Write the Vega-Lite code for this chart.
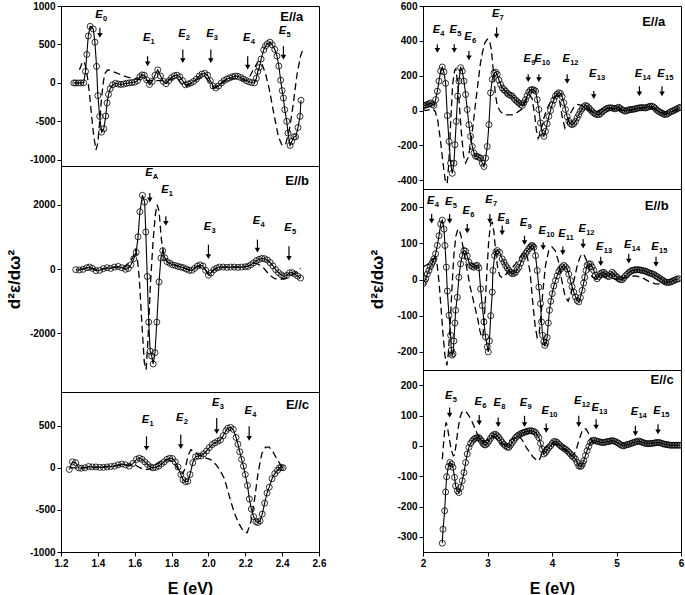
{
"$schema":"https://vega.github.io/schema/vega-lite/v6.json",
"padding":{"left":4,"top":0,"right":0,"bottom":0},
"config":{
"font":"Liberation Sans",
"view":{"stroke":"black","strokeWidth":1},
"axis":{"labelFont":"Liberation Sans","labelFontWeight":"bold","labelFontSize":10,"labelColor":"black","domainColor":"black","tickColor":"black","tickSize":4,"labelPadding":2,"grid":false,"labelFlush":false,"labelOverlap":false,"labelBound":false,"tickCount":20,"titleFont":"Liberation Sans","titleFontWeight":"bold","titleColor":"black","titleFontSize":16}
},
"datasets":{
"Lae":[{"x":1.27,"y":0},{"x":1.28,"y":0},{"x":1.294,"y":0},{"x":1.308,"y":0},{"x":1.323,"y":2},{"x":1.333,"y":150},{"x":1.34,"y":370},{"x":1.348,"y":610},{"x":1.358,"y":735},{"x":1.375,"y":700},{"x":1.384,"y":530},{"x":1.393,"y":215},{"x":1.4,"y":-165},{"x":1.41,"y":-435},{"x":1.42,"y":-640},{"x":1.432,"y":-595},{"x":1.443,"y":-430},{"x":1.45,"y":-260},{"x":1.458,"y":-150},{"x":1.467,"y":-75},{"x":1.48,"y":-25},{"x":1.495,"y":-5},{"x":1.51,"y":-15},{"x":1.525,"y":-20},{"x":1.54,"y":-15},{"x":1.555,"y":-5},{"x":1.57,"y":0},{"x":1.585,"y":5},{"x":1.6,"y":10},{"x":1.615,"y":30},{"x":1.628,"y":80},{"x":1.64,"y":105},{"x":1.652,"y":100},{"x":1.665,"y":40},{"x":1.68,"y":-20},{"x":1.695,"y":20},{"x":1.71,"y":100},{"x":1.725,"y":170},{"x":1.74,"y":90},{"x":1.755,"y":20},{"x":1.77,"y":-10},{"x":1.785,"y":30},{"x":1.8,"y":70},{"x":1.815,"y":95},{"x":1.83,"y":100},{"x":1.845,"y":80},{"x":1.86,"y":30},{"x":1.875,"y":-25},{"x":1.89,"y":-15},{"x":1.905,"y":0},{"x":1.92,"y":20},{"x":1.935,"y":50},{"x":1.95,"y":90},{"x":1.965,"y":115},{"x":1.98,"y":125},{"x":1.995,"y":100},{"x":2.01,"y":30},{"x":2.025,"y":-40},{"x":2.04,"y":-65},{"x":2.055,"y":-40},{"x":2.07,"y":0},{"x":2.085,"y":30},{"x":2.1,"y":50},{"x":2.115,"y":65},{"x":2.13,"y":80},{"x":2.145,"y":90},{"x":2.16,"y":85},{"x":2.175,"y":70},{"x":2.19,"y":50},{"x":2.205,"y":30},{"x":2.22,"y":15},{"x":2.235,"y":5},{"x":2.25,"y":0},{"x":2.26,"y":60},{"x":2.268,"y":150},{"x":2.276,"y":200},{"x":2.286,"y":310},{"x":2.3,"y":430},{"x":2.31,"y":480},{"x":2.32,"y":510},{"x":2.334,"y":530},{"x":2.346,"y":495},{"x":2.36,"y":435},{"x":2.372,"y":350},{"x":2.382,"y":220},{"x":2.392,"y":35},{"x":2.4,"y":-100},{"x":2.407,"y":-196},{"x":2.414,"y":-348},{"x":2.425,"y":-500},{"x":2.432,"y":-652},{"x":2.443,"y":-813},{"x":2.452,"y":-761},{"x":2.464,"y":-700},{"x":2.473,"y":-700},{"x":2.486,"y":-580},{"x":2.497,"y":-435},{"x":2.502,"y":-226}],
"Lad":[{"x":1.3,"y":170},{"x":1.315,"y":260},{"x":1.325,"y":280},{"x":1.335,"y":200},{"x":1.345,"y":50},{"x":1.355,"y":-150},{"x":1.365,"y":-400},{"x":1.378,"y":-700},{"x":1.39,"y":-870},{"x":1.4,"y":-780},{"x":1.41,"y":-500},{"x":1.42,"y":-200},{"x":1.43,"y":20},{"x":1.44,"y":130},{"x":1.455,"y":170},{"x":1.47,"y":160},{"x":1.5,"y":130},{"x":1.53,"y":100},{"x":1.56,"y":75},{"x":1.6,"y":55},{"x":1.64,"y":40},{"x":1.68,"y":30},{"x":1.72,"y":30},{"x":1.76,"y":30},{"x":1.8,"y":50},{"x":1.83,"y":60},{"x":1.86,"y":-30},{"x":1.88,"y":-40},{"x":1.91,"y":0},{"x":1.95,"y":60},{"x":1.98,"y":80},{"x":2.0,"y":30},{"x":2.03,"y":-70},{"x":2.06,"y":-20},{"x":2.1,"y":40},{"x":2.14,"y":60},{"x":2.18,"y":40},{"x":2.21,"y":30},{"x":2.23,"y":110},{"x":2.25,"y":200},{"x":2.27,"y":280},{"x":2.29,"y":250},{"x":2.31,"y":120},{"x":2.33,"y":-80},{"x":2.355,"y":-400},{"x":2.38,"y":-700},{"x":2.4,"y":-815},{"x":2.42,"y":-790},{"x":2.44,"y":-600},{"x":2.46,"y":-280},{"x":2.48,"y":100},{"x":2.5,"y":350},{"x":2.51,"y":420}],
"Lbe":[{"x":1.28,"y":-20},{"x":1.3,"y":-30},{"x":1.32,"y":-10},{"x":1.34,"y":40},{"x":1.355,"y":60},{"x":1.37,"y":20},{"x":1.39,"y":-50},{"x":1.41,"y":-40},{"x":1.43,"y":10},{"x":1.45,"y":40},{"x":1.47,"y":20},{"x":1.49,"y":60},{"x":1.51,"y":80},{"x":1.53,"y":40},{"x":1.55,"y":-10},{"x":1.565,"y":20},{"x":1.58,"y":130},{"x":1.595,"y":320},{"x":1.608,"y":520},{"x":1.618,"y":1000},{"x":1.628,"y":1780},{"x":1.642,"y":2290},{"x":1.654,"y":2080},{"x":1.66,"y":1150},{"x":1.668,"y":-230},{"x":1.676,"y":-1650},{"x":1.684,"y":-2550},{"x":1.692,"y":-2700},{"x":1.7,"y":-2950},{"x":1.71,"y":-2600},{"x":1.72,"y":-1650},{"x":1.732,"y":-400},{"x":1.742,"y":340},{"x":1.752,"y":570},{"x":1.763,"y":350},{"x":1.775,"y":230},{"x":1.79,"y":180},{"x":1.805,"y":130},{"x":1.82,"y":110},{"x":1.835,"y":80},{"x":1.85,"y":60},{"x":1.865,"y":40},{"x":1.88,"y":0},{"x":1.895,"y":-40},{"x":1.91,"y":-40},{"x":1.925,"y":20},{"x":1.94,"y":90},{"x":1.955,"y":130},{"x":1.97,"y":90},{"x":1.985,"y":-40},{"x":2.0,"y":-190},{"x":2.015,"y":-120},{"x":2.03,"y":-20},{"x":2.045,"y":30},{"x":2.06,"y":60},{"x":2.08,"y":60},{"x":2.1,"y":50},{"x":2.12,"y":60},{"x":2.14,"y":60},{"x":2.16,"y":50},{"x":2.18,"y":60},{"x":2.2,"y":70},{"x":2.215,"y":80},{"x":2.23,"y":130},{"x":2.245,"y":190},{"x":2.26,"y":260},{"x":2.275,"y":300},{"x":2.29,"y":330},{"x":2.305,"y":320},{"x":2.32,"y":280},{"x":2.335,"y":200},{"x":2.35,"y":100},{"x":2.365,"y":-20},{"x":2.38,"y":-110},{"x":2.395,"y":-180},{"x":2.41,"y":-230},{"x":2.425,"y":-200},{"x":2.44,"y":-120},{"x":2.455,"y":-110},{"x":2.47,"y":-160},{"x":2.485,"y":-220},{"x":2.5,"y":-280}],
"Lbd":[{"x":1.3,"y":-10},{"x":1.35,"y":40},{"x":1.4,"y":-30},{"x":1.45,"y":30},{"x":1.5,"y":60},{"x":1.54,"y":60},{"x":1.57,"y":200},{"x":1.59,"y":350},{"x":1.603,"y":600},{"x":1.612,"y":450},{"x":1.625,"y":-300},{"x":1.64,"y":-1800},{"x":1.652,"y":-2900},{"x":1.662,"y":-3125},{"x":1.672,"y":-2200},{"x":1.685,"y":-500},{"x":1.7,"y":900},{"x":1.712,"y":1700},{"x":1.722,"y":2000},{"x":1.732,"y":1800},{"x":1.745,"y":900},{"x":1.76,"y":400},{"x":1.78,"y":200},{"x":1.82,"y":120},{"x":1.86,"y":50},{"x":1.9,"y":-30},{"x":1.94,"y":80},{"x":1.97,"y":80},{"x":2.0,"y":-150},{"x":2.03,"y":-10},{"x":2.08,"y":60},{"x":2.14,"y":60},{"x":2.19,"y":70},{"x":2.22,"y":100},{"x":2.25,"y":180},{"x":2.27,"y":150},{"x":2.3,"y":30},{"x":2.33,"y":-180},{"x":2.36,"y":-300},{"x":2.39,"y":-320},{"x":2.42,"y":-280},{"x":2.45,"y":-200},{"x":2.48,"y":-80},{"x":2.5,"y":20}],
"Lce":[{"x":1.245,"y":-20},{"x":1.262,"y":70},{"x":1.28,"y":60},{"x":1.295,"y":0},{"x":1.31,"y":-5},{"x":1.33,"y":0},{"x":1.35,"y":15},{"x":1.37,"y":10},{"x":1.39,"y":10},{"x":1.41,"y":5},{"x":1.43,"y":5},{"x":1.45,"y":10},{"x":1.47,"y":15},{"x":1.49,"y":20},{"x":1.51,"y":35},{"x":1.53,"y":45},{"x":1.55,"y":35},{"x":1.57,"y":20},{"x":1.59,"y":50},{"x":1.61,"y":100},{"x":1.625,"y":115},{"x":1.64,"y":100},{"x":1.655,"y":70},{"x":1.67,"y":40},{"x":1.685,"y":10},{"x":1.7,"y":0},{"x":1.715,"y":5},{"x":1.73,"y":20},{"x":1.745,"y":45},{"x":1.76,"y":70},{"x":1.775,"y":100},{"x":1.79,"y":115},{"x":1.805,"y":110},{"x":1.82,"y":70},{"x":1.835,"y":10},{"x":1.85,"y":-80},{"x":1.862,"y":-140},{"x":1.875,"y":-165},{"x":1.888,"y":-160},{"x":1.9,"y":-80},{"x":1.915,"y":60},{"x":1.93,"y":130},{"x":1.945,"y":140},{"x":1.96,"y":140},{"x":1.975,"y":165},{"x":1.99,"y":200},{"x":2.005,"y":240},{"x":2.02,"y":275},{"x":2.035,"y":295},{"x":2.05,"y":315},{"x":2.065,"y":330},{"x":2.08,"y":380},{"x":2.095,"y":440},{"x":2.105,"y":470},{"x":2.12,"y":480},{"x":2.135,"y":455},{"x":2.15,"y":360},{"x":2.16,"y":280},{"x":2.17,"y":190},{"x":2.18,"y":100},{"x":2.19,"y":20},{"x":2.2,"y":-80},{"x":2.212,"y":-210},{"x":2.222,"y":-370},{"x":2.233,"y":-490},{"x":2.245,"y":-580},{"x":2.258,"y":-640},{"x":2.268,"y":-650},{"x":2.28,"y":-630},{"x":2.292,"y":-550},{"x":2.305,"y":-420},{"x":2.318,"y":-300},{"x":2.33,"y":-230},{"x":2.345,"y":-130},{"x":2.36,"y":-70},{"x":2.375,"y":-30},{"x":2.385,"y":0},{"x":2.395,"y":5},{"x":2.405,"y":0}],
"Lcd":[{"x":1.25,"y":0},{"x":1.3,"y":0},{"x":1.4,"y":5},{"x":1.5,"y":25},{"x":1.56,"y":30},{"x":1.6,"y":40},{"x":1.62,"y":10},{"x":1.65,"y":-20},{"x":1.68,"y":-15},{"x":1.72,"y":50},{"x":1.75,"y":90},{"x":1.78,"y":100},{"x":1.81,"y":60},{"x":1.84,"y":-30},{"x":1.86,"y":-70},{"x":1.875,"y":0},{"x":1.89,"y":150},{"x":1.905,"y":215},{"x":1.92,"y":200},{"x":1.95,"y":150},{"x":1.98,"y":120},{"x":2.01,"y":100},{"x":2.04,"y":40},{"x":2.06,"y":-20},{"x":2.085,"y":-120},{"x":2.1,"y":-230},{"x":2.12,"y":-390},{"x":2.14,"y":-530},{"x":2.16,"y":-640},{"x":2.18,"y":-720},{"x":2.2,"y":-765},{"x":2.21,"y":-770},{"x":2.23,"y":-650},{"x":2.25,"y":-380},{"x":2.27,"y":-50},{"x":2.29,"y":170},{"x":2.31,"y":245},{"x":2.33,"y":245},{"x":2.35,"y":190},{"x":2.37,"y":110},{"x":2.39,"y":40},{"x":2.405,"y":0}],
"Rae":[{"x":2.0,"y":29},{"x":2.025,"y":30},{"x":2.05,"y":32},{"x":2.075,"y":35},{"x":2.1,"y":40},{"x":2.12,"y":44},{"x":2.145,"y":35},{"x":2.17,"y":30},{"x":2.196,"y":63},{"x":2.222,"y":111},{"x":2.248,"y":169},{"x":2.274,"y":227},{"x":2.299,"y":250},{"x":2.325,"y":221},{"x":2.351,"y":156},{"x":2.377,"y":-29},{"x":2.403,"y":-177},{"x":2.428,"y":-302},{"x":2.454,"y":-360},{"x":2.48,"y":-302},{"x":2.495,"y":-196},{"x":2.516,"y":-62},{"x":2.537,"y":83},{"x":2.557,"y":169},{"x":2.583,"y":246},{"x":2.609,"y":227},{"x":2.635,"y":169},{"x":2.661,"y":92},{"x":2.686,"y":6},{"x":2.712,"y":-81},{"x":2.738,"y":-148},{"x":2.764,"y":-206},{"x":2.79,"y":-244},{"x":2.815,"y":-262},{"x":2.841,"y":-263},{"x":2.867,"y":-268},{"x":2.893,"y":-273},{"x":2.919,"y":-302},{"x":2.945,"y":-321},{"x":2.97,"y":-273},{"x":2.996,"y":-206},{"x":3.022,"y":-81},{"x":3.048,"y":102},{"x":3.074,"y":179},{"x":3.1,"y":215},{"x":3.125,"y":220},{"x":3.151,"y":208},{"x":3.177,"y":175},{"x":3.203,"y":150},{"x":3.23,"y":130},{"x":3.255,"y":120},{"x":3.28,"y":112},{"x":3.305,"y":100},{"x":3.33,"y":92},{"x":3.355,"y":88},{"x":3.383,"y":83},{"x":3.41,"y":70},{"x":3.435,"y":60},{"x":3.46,"y":52},{"x":3.486,"y":44},{"x":3.512,"y":35},{"x":3.538,"y":29},{"x":3.564,"y":45},{"x":3.59,"y":63},{"x":3.615,"y":85},{"x":3.641,"y":106},{"x":3.667,"y":118},{"x":3.693,"y":121},{"x":3.719,"y":118},{"x":3.745,"y":112},{"x":3.77,"y":63},{"x":3.796,"y":6},{"x":3.822,"y":-71},{"x":3.848,"y":-129},{"x":3.874,"y":-148},{"x":3.899,"y":-119},{"x":3.925,"y":-75},{"x":3.951,"y":-33},{"x":3.977,"y":0},{"x":4.003,"y":35},{"x":4.028,"y":60},{"x":4.054,"y":83},{"x":4.08,"y":95},{"x":4.106,"y":102},{"x":4.131,"y":98},{"x":4.157,"y":80},{"x":4.183,"y":45},{"x":4.209,"y":6},{"x":4.235,"y":-35},{"x":4.261,"y":-62},{"x":4.286,"y":-75},{"x":4.312,"y":-81},{"x":4.338,"y":-75},{"x":4.364,"y":-62},{"x":4.39,"y":-42},{"x":4.415,"y":-23},{"x":4.44,"y":-5},{"x":4.467,"y":10},{"x":4.493,"y":22},{"x":4.519,"y":29},{"x":4.544,"y":25},{"x":4.57,"y":15},{"x":4.596,"y":5},{"x":4.622,"y":-5},{"x":4.648,"y":-13},{"x":4.673,"y":-20},{"x":4.699,"y":-23},{"x":4.725,"y":-23},{"x":4.751,"y":-18},{"x":4.777,"y":-8},{"x":4.803,"y":0},{"x":4.828,"y":6},{"x":4.854,"y":12},{"x":4.88,"y":15},{"x":4.906,"y":16},{"x":4.932,"y":15},{"x":4.957,"y":12},{"x":4.983,"y":10},{"x":5.009,"y":15},{"x":5.035,"y":19},{"x":5.06,"y":12},{"x":5.086,"y":5},{"x":5.112,"y":0},{"x":5.138,"y":-4},{"x":5.164,"y":0},{"x":5.19,"y":4},{"x":5.215,"y":6},{"x":5.241,"y":6},{"x":5.267,"y":8},{"x":5.293,"y":10},{"x":5.319,"y":13},{"x":5.345,"y":15},{"x":5.37,"y":16},{"x":5.396,"y":17},{"x":5.422,"y":16},{"x":5.448,"y":15},{"x":5.474,"y":18},{"x":5.5,"y":22},{"x":5.525,"y":25},{"x":5.551,"y":25},{"x":5.577,"y":20},{"x":5.603,"y":12},{"x":5.628,"y":2},{"x":5.654,"y":-5},{"x":5.68,"y":-10},{"x":5.706,"y":-15},{"x":5.731,"y":-20},{"x":5.757,"y":-23},{"x":5.783,"y":-20},{"x":5.809,"y":-14},{"x":5.835,"y":-8},{"x":5.861,"y":-4},{"x":5.886,"y":0},{"x":5.912,"y":5},{"x":5.938,"y":10},{"x":5.964,"y":15},{"x":5.99,"y":19}],
"Rad":[{"x":2.0,"y":6},{"x":2.05,"y":0},{"x":2.1,"y":5},{"x":2.15,"y":10},{"x":2.19,"y":-5},{"x":2.23,"y":-60},{"x":2.27,"y":-170},{"x":2.31,"y":-300},{"x":2.345,"y":-400},{"x":2.375,"y":-420},{"x":2.4,"y":-300},{"x":2.43,"y":-60},{"x":2.46,"y":150},{"x":2.49,"y":230},{"x":2.51,"y":240},{"x":2.54,"y":150},{"x":2.57,"y":0},{"x":2.6,"y":-150},{"x":2.63,"y":-260},{"x":2.66,"y":-300},{"x":2.7,"y":-270},{"x":2.74,"y":-190},{"x":2.78,"y":-70},{"x":2.82,"y":60},{"x":2.86,"y":180},{"x":2.89,"y":270},{"x":2.92,"y":330},{"x":2.96,"y":390},{"x":3.0,"y":410},{"x":3.03,"y":405},{"x":3.06,"y":350},{"x":3.09,"y":230},{"x":3.12,"y":100},{"x":3.15,"y":30},{"x":3.19,"y":0},{"x":3.24,"y":-20},{"x":3.3,"y":-25},{"x":3.38,"y":-25},{"x":3.46,"y":-10},{"x":3.54,"y":10},{"x":3.6,"y":60},{"x":3.65,"y":90},{"x":3.69,"y":70},{"x":3.73,"y":-20},{"x":3.76,"y":-120},{"x":3.785,"y":-160},{"x":3.82,"y":-130},{"x":3.86,"y":-60},{"x":3.92,"y":10},{"x":3.98,"y":50},{"x":4.04,"y":80},{"x":4.08,"y":85},{"x":4.12,"y":50},{"x":4.16,"y":-40},{"x":4.2,"y":-100},{"x":4.24,"y":-70},{"x":4.28,"y":-20},{"x":4.34,"y":20},{"x":4.4,"y":35},{"x":4.46,"y":30},{"x":4.52,"y":15},{"x":4.58,"y":0},{"x":4.64,"y":-10},{"x":4.7,"y":-5},{"x":4.78,"y":10},{"x":4.86,"y":15},{"x":4.94,"y":10},{"x":5.02,"y":5},{"x":5.1,"y":0},{"x":5.2,"y":0},{"x":5.3,"y":10},{"x":5.4,"y":15},{"x":5.5,"y":20},{"x":5.58,"y":10},{"x":5.65,"y":-5},{"x":5.72,"y":-15},{"x":5.8,"y":-15},{"x":5.88,"y":-5},{"x":5.95,"y":5},{"x":6.0,"y":10}],
"Rbe":[{"x":2.0,"y":-12},{"x":2.02,"y":-5},{"x":2.041,"y":2},{"x":2.067,"y":15},{"x":2.093,"y":25},{"x":2.113,"y":35},{"x":2.134,"y":43},{"x":2.155,"y":50},{"x":2.17,"y":57},{"x":2.196,"y":71},{"x":2.222,"y":94},{"x":2.248,"y":121},{"x":2.274,"y":153},{"x":2.299,"y":164},{"x":2.325,"y":139},{"x":2.341,"y":94},{"x":2.361,"y":34},{"x":2.377,"y":-32},{"x":2.403,"y":-99},{"x":2.428,"y":-154},{"x":2.44,"y":-195},{"x":2.452,"y":-209},{"x":2.466,"y":-205},{"x":2.48,"y":-170},{"x":2.495,"y":-120},{"x":2.506,"y":-85},{"x":2.532,"y":-49},{"x":2.557,"y":6},{"x":2.583,"y":43},{"x":2.609,"y":66},{"x":2.635,"y":80},{"x":2.66,"y":78},{"x":2.686,"y":65},{"x":2.712,"y":48},{"x":2.738,"y":39},{"x":2.764,"y":36},{"x":2.79,"y":34},{"x":2.815,"y":38},{"x":2.841,"y":39},{"x":2.867,"y":32},{"x":2.893,"y":-26},{"x":2.919,"y":-72},{"x":2.945,"y":-117},{"x":2.97,"y":-159},{"x":2.996,"y":-186},{"x":3.012,"y":-200},{"x":3.03,"y":-170},{"x":3.05,"y":-100},{"x":3.074,"y":-35},{"x":3.084,"y":25},{"x":3.11,"y":66},{"x":3.13,"y":76},{"x":3.151,"y":80},{"x":3.187,"y":75},{"x":3.228,"y":57},{"x":3.254,"y":48},{"x":3.28,"y":39},{"x":3.306,"y":32},{"x":3.332,"y":25},{"x":3.357,"y":20},{"x":3.383,"y":16},{"x":3.41,"y":17},{"x":3.435,"y":20},{"x":3.46,"y":27},{"x":3.486,"y":34},{"x":3.512,"y":45},{"x":3.538,"y":57},{"x":3.564,"y":65},{"x":3.59,"y":72},{"x":3.615,"y":78},{"x":3.64,"y":85},{"x":3.667,"y":90},{"x":3.683,"y":94},{"x":3.7,"y":93},{"x":3.719,"y":89},{"x":3.745,"y":66},{"x":3.77,"y":25},{"x":3.796,"y":-21},{"x":3.822,"y":-67},{"x":3.837,"y":-117},{"x":3.855,"y":-154},{"x":3.874,"y":-172},{"x":3.889,"y":-182},{"x":3.905,"y":-175},{"x":3.925,"y":-160},{"x":3.943,"y":-120},{"x":3.961,"y":-85},{"x":3.982,"y":-60},{"x":4.003,"y":-39},{"x":4.028,"y":-18},{"x":4.054,"y":-3},{"x":4.08,"y":10},{"x":4.106,"y":22},{"x":4.132,"y":29},{"x":4.157,"y":35},{"x":4.183,"y":39},{"x":4.209,"y":35},{"x":4.235,"y":29},{"x":4.26,"y":15},{"x":4.286,"y":-3},{"x":4.312,"y":-20},{"x":4.338,"y":-35},{"x":4.364,"y":-48},{"x":4.39,"y":-58},{"x":4.415,"y":-62},{"x":4.44,"y":-50},{"x":4.467,"y":-30},{"x":4.49,"y":-10},{"x":4.508,"y":6},{"x":4.526,"y":25},{"x":4.544,"y":39},{"x":4.57,"y":43},{"x":4.596,"y":43},{"x":4.622,"y":35},{"x":4.648,"y":25},{"x":4.673,"y":12},{"x":4.699,"y":2},{"x":4.725,"y":8},{"x":4.751,"y":16},{"x":4.777,"y":19},{"x":4.803,"y":20},{"x":4.828,"y":15},{"x":4.854,"y":10},{"x":4.88,"y":8},{"x":4.906,"y":14},{"x":4.932,"y":20},{"x":4.957,"y":16},{"x":4.983,"y":10},{"x":5.009,"y":6},{"x":5.035,"y":2},{"x":5.06,"y":0},{"x":5.086,"y":-1},{"x":5.112,"y":4},{"x":5.138,"y":10},{"x":5.164,"y":14},{"x":5.19,"y":19},{"x":5.215,"y":22},{"x":5.241,"y":25},{"x":5.267,"y":26},{"x":5.293,"y":27},{"x":5.319,"y":27},{"x":5.345,"y":27},{"x":5.37,"y":26},{"x":5.396,"y":25},{"x":5.422,"y":24},{"x":5.448,"y":23},{"x":5.474,"y":21},{"x":5.5,"y":19},{"x":5.525,"y":17},{"x":5.551,"y":16},{"x":5.577,"y":14},{"x":5.603,"y":11},{"x":5.628,"y":8},{"x":5.654,"y":5},{"x":5.68,"y":2},{"x":5.706,"y":-1},{"x":5.731,"y":-4},{"x":5.757,"y":-7},{"x":5.783,"y":-8},{"x":5.809,"y":-8},{"x":5.835,"y":-7},{"x":5.861,"y":-5},{"x":5.886,"y":-3},{"x":5.912,"y":-1},{"x":5.938,"y":1},{"x":5.964,"y":2}],
"Rbd":[{"x":2.0,"y":34},{"x":2.05,"y":40},{"x":2.1,"y":45},{"x":2.15,"y":55},{"x":2.19,"y":60},{"x":2.22,"y":40},{"x":2.25,"y":-10},{"x":2.28,"y":-80},{"x":2.31,"y":-150},{"x":2.34,"y":-210},{"x":2.37,"y":-237},{"x":2.39,"y":-210},{"x":2.42,"y":-130},{"x":2.45,"y":-20},{"x":2.48,"y":70},{"x":2.51,"y":120},{"x":2.54,"y":138},{"x":2.56,"y":139},{"x":2.59,"y":120},{"x":2.62,"y":90},{"x":2.65,"y":60},{"x":2.69,"y":20},{"x":2.73,"y":-20},{"x":2.77,"y":-50},{"x":2.81,"y":-80},{"x":2.85,"y":-110},{"x":2.88,"y":-140},{"x":2.91,"y":-160},{"x":2.93,"y":-155},{"x":2.96,"y":-80},{"x":2.99,"y":20},{"x":3.02,"y":110},{"x":3.05,"y":155},{"x":3.075,"y":158},{"x":3.1,"y":130},{"x":3.13,"y":70},{"x":3.16,"y":30},{"x":3.19,"y":10},{"x":3.23,"y":5},{"x":3.29,"y":15},{"x":3.35,"y":25},{"x":3.42,"y":40},{"x":3.48,"y":55},{"x":3.54,"y":70},{"x":3.58,"y":75},{"x":3.62,"y":60},{"x":3.66,"y":20},{"x":3.7,"y":-60},{"x":3.74,"y":-130},{"x":3.77,"y":-160},{"x":3.8,"y":-150},{"x":3.83,"y":-100},{"x":3.86,"y":-30},{"x":3.9,"y":40},{"x":3.95,"y":80},{"x":4.0,"y":90},{"x":4.05,"y":80},{"x":4.1,"y":50},{"x":4.15,"y":0},{"x":4.2,"y":-45},{"x":4.25,"y":-60},{"x":4.3,"y":-35},{"x":4.35,"y":5},{"x":4.4,"y":45},{"x":4.45,"y":68},{"x":4.49,"y":71},{"x":4.53,"y":55},{"x":4.57,"y":30},{"x":4.62,"y":8},{"x":4.68,"y":0},{"x":4.75,"y":5},{"x":4.82,"y":8},{"x":4.9,"y":5},{"x":5.0,"y":0},{"x":5.1,"y":3},{"x":5.2,"y":8},{"x":5.3,"y":10},{"x":5.4,"y":5},{"x":5.5,"y":-5},{"x":5.6,"y":-12},{"x":5.7,"y":-12},{"x":5.8,"y":-8}],
"Rce":[{"x":2.299,"y":-321},{"x":2.31,"y":-275},{"x":2.336,"y":-214},{"x":2.351,"y":-152},{"x":2.367,"y":-102},{"x":2.392,"y":-69},{"x":2.418,"y":-55},{"x":2.444,"y":-60},{"x":2.464,"y":-71},{"x":2.49,"y":-104},{"x":2.506,"y":-132},{"x":2.532,"y":-148},{"x":2.557,"y":-154},{"x":2.583,"y":-137},{"x":2.609,"y":-115},{"x":2.635,"y":-88},{"x":2.661,"y":-55},{"x":2.686,"y":-27},{"x":2.712,"y":-5},{"x":2.738,"y":8},{"x":2.764,"y":16},{"x":2.79,"y":22},{"x":2.815,"y":25},{"x":2.841,"y":27},{"x":2.867,"y":27},{"x":2.89,"y":22},{"x":2.908,"y":16},{"x":2.93,"y":8},{"x":2.95,"y":4},{"x":2.97,"y":3},{"x":2.996,"y":8},{"x":3.022,"y":16},{"x":3.048,"y":25},{"x":3.074,"y":33},{"x":3.1,"y":37},{"x":3.125,"y":38},{"x":3.151,"y":33},{"x":3.177,"y":27},{"x":3.203,"y":19},{"x":3.228,"y":11},{"x":3.254,"y":5},{"x":3.28,"y":0},{"x":3.306,"y":-4},{"x":3.332,"y":-5},{"x":3.357,"y":2},{"x":3.383,"y":11},{"x":3.41,"y":19},{"x":3.435,"y":27},{"x":3.46,"y":32},{"x":3.486,"y":36},{"x":3.512,"y":39},{"x":3.538,"y":42},{"x":3.564,"y":44},{"x":3.59,"y":46},{"x":3.615,"y":48},{"x":3.641,"y":49},{"x":3.667,"y":50},{"x":3.693,"y":49},{"x":3.719,"y":47},{"x":3.745,"y":44},{"x":3.77,"y":36},{"x":3.796,"y":27},{"x":3.822,"y":8},{"x":3.848,"y":-11},{"x":3.874,"y":-27},{"x":3.9,"y":-22},{"x":3.925,"y":-14},{"x":3.951,"y":-6},{"x":3.977,"y":0},{"x":4.003,"y":8},{"x":4.028,"y":14},{"x":4.054,"y":14},{"x":4.08,"y":11},{"x":4.106,"y":5},{"x":4.132,"y":0},{"x":4.157,"y":-4},{"x":4.183,"y":-8},{"x":4.209,"y":-11},{"x":4.235,"y":-16},{"x":4.26,"y":-21},{"x":4.286,"y":-27},{"x":4.312,"y":-33},{"x":4.338,"y":-38},{"x":4.364,"y":-44},{"x":4.39,"y":-55},{"x":4.415,"y":-66},{"x":4.44,"y":-68},{"x":4.457,"y":-66},{"x":4.475,"y":-58},{"x":4.493,"y":-49},{"x":4.519,"y":-32},{"x":4.544,"y":-16},{"x":4.57,"y":-2},{"x":4.596,"y":11},{"x":4.622,"y":16},{"x":4.648,"y":19},{"x":4.673,"y":17},{"x":4.699,"y":15},{"x":4.725,"y":14},{"x":4.751,"y":12},{"x":4.777,"y":11},{"x":4.803,"y":11},{"x":4.828,"y":12},{"x":4.854,"y":14},{"x":4.88,"y":14},{"x":4.906,"y":16},{"x":4.932,"y":17},{"x":4.957,"y":16},{"x":4.983,"y":14},{"x":5.009,"y":11},{"x":5.035,"y":8},{"x":5.06,"y":4},{"x":5.086,"y":1},{"x":5.112,"y":0},{"x":5.138,"y":2},{"x":5.164,"y":4},{"x":5.19,"y":5},{"x":5.215,"y":7},{"x":5.241,"y":9},{"x":5.267,"y":11},{"x":5.293,"y":13},{"x":5.319,"y":14},{"x":5.345,"y":16},{"x":5.37,"y":14},{"x":5.396,"y":12},{"x":5.422,"y":10},{"x":5.448,"y":8},{"x":5.474,"y":7},{"x":5.5,"y":7},{"x":5.525,"y":8},{"x":5.551,"y":8},{"x":5.577,"y":9},{"x":5.603,"y":10},{"x":5.628,"y":11},{"x":5.654,"y":11},{"x":5.68,"y":10},{"x":5.706,"y":8},{"x":5.731,"y":6},{"x":5.757,"y":5},{"x":5.783,"y":4},{"x":5.809,"y":3},{"x":5.835,"y":2},{"x":5.861,"y":2},{"x":5.886,"y":2},{"x":5.912,"y":2},{"x":5.938,"y":2},{"x":5.964,"y":2},{"x":5.99,"y":2}],
"Rcd":[{"x":2.299,"y":-44},{"x":2.32,"y":10},{"x":2.34,"y":60},{"x":2.36,"y":77},{"x":2.38,"y":60},{"x":2.41,"y":20},{"x":2.44,"y":-15},{"x":2.47,"y":-33},{"x":2.49,"y":-30},{"x":2.51,"y":0},{"x":2.54,"y":50},{"x":2.57,"y":90},{"x":2.6,"y":110},{"x":2.635,"y":115},{"x":2.67,"y":112},{"x":2.71,"y":100},{"x":2.75,"y":85},{"x":2.79,"y":65},{"x":2.83,"y":45},{"x":2.87,"y":28},{"x":2.91,"y":20},{"x":2.95,"y":15},{"x":2.99,"y":18},{"x":3.03,"y":25},{"x":3.07,"y":30},{"x":3.11,"y":30},{"x":3.15,"y":20},{"x":3.19,"y":10},{"x":3.23,"y":5},{"x":3.27,"y":5},{"x":3.31,"y":10},{"x":3.35,"y":18},{"x":3.4,"y":25},{"x":3.45,"y":30},{"x":3.5,"y":30},{"x":3.55,"y":15},{"x":3.6,"y":-5},{"x":3.65,"y":-20},{"x":3.7,"y":-35},{"x":3.75,"y":-45},{"x":3.79,"y":-50},{"x":3.82,"y":-40},{"x":3.85,"y":-20},{"x":3.89,"y":-5},{"x":3.93,"y":0},{"x":3.97,"y":5},{"x":4.01,"y":8},{"x":4.06,"y":5},{"x":4.11,"y":0},{"x":4.16,"y":-8},{"x":4.21,"y":-15},{"x":4.26,"y":-25},{"x":4.3,"y":-33},{"x":4.34,"y":-30},{"x":4.38,"y":-10},{"x":4.42,"y":20},{"x":4.46,"y":45},{"x":4.5,"y":57},{"x":4.53,"y":55},{"x":4.57,"y":40},{"x":4.61,"y":20},{"x":4.65,"y":8},{"x":4.7,"y":5}],
"arr":[
{"p":"La","x":1.411,"t":717,"b":617,"ly":883,"sub":"0"},{"p":"La","x":1.67,"t":348,"b":248,"ly":578,"sub":"1"},{"p":"La","x":1.861,"t":435,"b":291,"ly":630,"sub":"2"},{"p":"La","x":2.013,"t":435,"b":291,"ly":630,"sub":"3"},{"p":"La","x":2.213,"t":348,"b":204,"ly":578,"sub":"4"},{"p":"La","x":2.407,"t":478,"b":335,"ly":674,"sub":"5"},
{"p":"Lb","x":1.682,"t":2362,"b":2144,"ly":2984,"sub":"A"},{"p":"Lb","x":1.769,"t":1637,"b":1419,"ly":2466,"sub":"1"},{"p":"Lb","x":2.0,"t":756,"b":383,"ly":1295,"sub":"3"},{"p":"Lb","x":2.266,"t":912,"b":590,"ly":1481,"sub":"4"},{"p":"Lb","x":2.437,"t":704,"b":331,"ly":1274,"sub":"5"},
{"p":"Lc","x":1.664,"t":374,"b":232,"ly":571,"sub":"1"},{"p":"Lc","x":1.85,"t":394,"b":252,"ly":591,"sub":"2"},{"p":"Lc","x":2.045,"t":591,"b":429,"ly":768,"sub":"3"},{"p":"Lc","x":2.221,"t":492,"b":350,"ly":677,"sub":"4"},
{"p":"Ra","x":2.222,"t":381,"b":346,"ly":463,"sub":"4"},{"p":"Ra","x":2.485,"t":381,"b":346,"ly":463,"sub":"5"},{"p":"Ra","x":2.712,"t":342,"b":302,"ly":425,"sub":"6"},{"p":"Ra","x":3.141,"t":477,"b":427,"ly":554,"sub":"7"},{"p":"Ra","x":3.631,"t":208,"b":177,"ly":294,"sub":"9"},{"p":"Ra","x":3.796,"t":208,"b":177,"ly":294,"sub":"10"},{"p":"Ra","x":4.235,"t":208,"b":167,"ly":294,"sub":"12"},{"p":"Ra","x":4.648,"t":112,"b":80,"ly":208,"sub":"13"},{"p":"Ra","x":5.355,"t":140,"b":96,"ly":208,"sub":"14"},{"p":"Ra","x":5.706,"t":140,"b":96,"ly":208,"sub":"15"},
{"p":"Rb","x":2.134,"t":181,"b":161,"ly":217,"sub":"4"},{"p":"Rb","x":2.413,"t":181,"b":161,"ly":215,"sub":"5"},{"p":"Rb","x":2.686,"t":153,"b":134,"ly":188,"sub":"6"},{"p":"Rb","x":3.037,"t":181,"b":161,"ly":219,"sub":"7"},{"p":"Rb","x":3.228,"t":149,"b":129,"ly":171,"sub":"8"},{"p":"Rb","x":3.574,"t":121,"b":102,"ly":155,"sub":"9"},{"p":"Rb","x":3.863,"t":103,"b":88,"ly":135,"sub":"10"},{"p":"Rb","x":4.168,"t":91,"b":74,"ly":127,"sub":"11"},{"p":"Rb","x":4.483,"t":112,"b":92,"ly":139,"sub":"12"},{"p":"Rb","x":4.756,"t":63,"b":44,"ly":89,"sub":"13"},{"p":"Rb","x":5.19,"t":71,"b":51,"ly":94,"sub":"14"},{"p":"Rb","x":5.613,"t":63,"b":42,"ly":89,"sub":"15"},
{"p":"Rc","x":2.413,"t":126,"b":101,"ly":165,"sub":"5"},{"p":"Rc","x":2.872,"t":102,"b":76,"ly":143,"sub":"6"},{"p":"Rc","x":3.166,"t":93,"b":70,"ly":140,"sub":"8"},{"p":"Rc","x":3.574,"t":99,"b":70,"ly":140,"sub":"9"},{"p":"Rc","x":3.91,"t":74,"b":51,"ly":115,"sub":"10"},{"p":"Rc","x":4.415,"t":99,"b":70,"ly":148,"sub":"12"},{"p":"Rc","x":4.684,"t":88,"b":62,"ly":124,"sub":"13"},{"p":"Rc","x":5.293,"t":66,"b":40,"ly":110,"sub":"14"},{"p":"Rc","x":5.644,"t":71,"b":46,"ly":115,"sub":"15"}],
"pl":[{"p":"La","x":2.515,"y":856,"t":"E//a"},{"p":"Lb","x":2.546,"y":2725,"t":"E//b"},{"p":"Lc","x":2.546,"y":740,"t":"E//c"},{"p":"Ra","x":5.757,"y":510,"t":"E//a"},{"p":"Rb","x":5.809,"y":204,"t":"E//b"},{"p":"Rc","x":5.886,"y":216,"t":"E//c"}]
},
"bounds":"full",
"spacing":40,
"hconcat":[
{"bounds":"flush","spacing":0,"vconcat":[
{"width":258,"height":160,
"encoding":{"x":{"field":"x","type":"quantitative","scale":{"domain":[1.2,2.6],"nice":false,"zero":false},"axis":null}},
"layer":[
{"data":{"name":"Lad"},"mark":{"type":"line","stroke":"black","strokeDash":[7,4],"strokeWidth":1.3,"clip":true},"encoding":{"y":{"field":"y","type":"quantitative","scale":{"domain":[-1080,1000],"nice":false,"zero":false},"axis":{"values":[-1000,-500,0,500,1000],"tickCount":20,"labelOverlap":false,"title":null,"labelExpr":"(datum.value < 0 ? '-' : '') + format(abs(datum.value), 'd')"}}}},
{"data":{"name":"Lae"},"mark":{"type":"line","stroke":"black","strokeWidth":1.1,"clip":true},"encoding":{"y":{"field":"y","type":"quantitative"}}},
{"data":{"name":"Lae"},"mark":{"type":"point","shape":"circle","filled":false,"stroke":"black","strokeWidth":0.8,"size":36,"opacity":1,"clip":true},"encoding":{"y":{"field":"y","type":"quantitative"}}},
{"data":{"name":"arr"},"transform":[{"filter":"datum.p=='La'"}],"mark":{"type":"rule","stroke":"black","strokeWidth":1.2},"encoding":{"y":{"field":"t","type":"quantitative"},"y2":{"field":"b"}}},
{"data":{"name":"arr"},"transform":[{"filter":"datum.p=='La'"}],"mark":{"type":"point","shape":"triangle-down","filled":true,"fill":"black","size":30,"opacity":1},"encoding":{"y":{"field":"b","type":"quantitative"}}},
{"data":{"name":"arr"},"transform":[{"filter":"datum.p=='La'"}],"mark":{"type":"text","text":"E","fontStyle":"italic","fontWeight":"bold","fontSize":11,"align":"center","baseline":"middle","dx":-1},"encoding":{"y":{"field":"ly","type":"quantitative"}}},
{"data":{"name":"arr"},"transform":[{"filter":"datum.p=='La'"}],"mark":{"type":"text","fontWeight":"bold","fontSize":7.5,"align":"left","baseline":"middle","dx":3,"dy":4},"encoding":{"y":{"field":"ly","type":"quantitative"},"text":{"field":"sub"}}},
{"data":{"name":"pl"},"transform":[{"filter":"datum.p=='La'"}],"mark":{"type":"text","fontWeight":"bold","fontSize":13,"align":"right","baseline":"middle"},"encoding":{"y":{"field":"y","type":"quantitative"},"text":{"field":"t"}}}
]},
{"width":258,"height":226,
"encoding":{"x":{"field":"x","type":"quantitative","scale":{"domain":[1.2,2.6],"nice":false,"zero":false},"axis":null}},
"layer":[
{"data":{"name":"Lbd"},"mark":{"type":"line","stroke":"black","strokeDash":[7,4],"strokeWidth":1.3,"clip":true},"encoding":{"y":{"field":"y","type":"quantitative","scale":{"domain":[-3820,3200],"nice":false,"zero":false},"axis":{"values":[-2000,0,2000],"tickCount":20,"labelOverlap":false,"title":"d²ε/dω²","titleFontSize":17,"titleAngle":-90,"titleX":-47,"titleY":113,"titleAlign":"center","titleBaseline":"middle","labelExpr":"(datum.value < 0 ? '-' : '') + format(abs(datum.value), 'd')"}}}},
{"data":{"name":"Lbe"},"mark":{"type":"line","stroke":"black","strokeWidth":1.1,"clip":true},"encoding":{"y":{"field":"y","type":"quantitative"}}},
{"data":{"name":"Lbe"},"mark":{"type":"point","shape":"circle","filled":false,"stroke":"black","strokeWidth":0.8,"size":36,"opacity":1,"clip":true},"encoding":{"y":{"field":"y","type":"quantitative"}}},
{"data":{"name":"arr"},"transform":[{"filter":"datum.p=='Lb'"}],"mark":{"type":"rule","stroke":"black","strokeWidth":1.2},"encoding":{"y":{"field":"t","type":"quantitative"},"y2":{"field":"b"}}},
{"data":{"name":"arr"},"transform":[{"filter":"datum.p=='Lb'"}],"mark":{"type":"point","shape":"triangle-down","filled":true,"fill":"black","size":30,"opacity":1},"encoding":{"y":{"field":"b","type":"quantitative"}}},
{"data":{"name":"arr"},"transform":[{"filter":"datum.p=='Lb'"}],"mark":{"type":"text","text":"E","fontStyle":"italic","fontWeight":"bold","fontSize":11,"align":"center","baseline":"middle","dx":-1},"encoding":{"y":{"field":"ly","type":"quantitative"}}},
{"data":{"name":"arr"},"transform":[{"filter":"datum.p=='Lb'"}],"mark":{"type":"text","fontWeight":"bold","fontSize":7.5,"align":"left","baseline":"middle","dx":3,"dy":4},"encoding":{"y":{"field":"ly","type":"quantitative"},"text":{"field":"sub"}}},
{"data":{"name":"pl"},"transform":[{"filter":"datum.p=='Lb'"}],"mark":{"type":"text","fontWeight":"bold","fontSize":13,"align":"right","baseline":"middle"},"encoding":{"y":{"field":"y","type":"quantitative"},"text":{"field":"t"}}}
]},
{"width":258,"height":160,
"encoding":{"x":{"field":"x","type":"quantitative","scale":{"domain":[1.2,2.6],"nice":false,"zero":false},"axis":{"values":[1.2,1.4,1.6,1.8,2.0,2.2,2.4,2.6],"tickCount":20,"labelOverlap":false,"format":".1f","title":"E (eV)","titleY":36,"titleBaseline":"middle"}}},
"layer":[
{"data":{"name":"Lcd"},"mark":{"type":"line","stroke":"black","strokeDash":[7,4],"strokeWidth":1.3,"clip":true},"encoding":{"y":{"field":"y","type":"quantitative","scale":{"domain":[-1000,900],"nice":false,"zero":false},"axis":{"values":[-1000,-500,0,500],"tickCount":20,"labelOverlap":false,"title":null,"labelExpr":"(datum.value < 0 ? '-' : '') + format(abs(datum.value), 'd')"}}}},
{"data":{"name":"Lce"},"mark":{"type":"line","stroke":"black","strokeWidth":1.1,"clip":true},"encoding":{"y":{"field":"y","type":"quantitative"}}},
{"data":{"name":"Lce"},"mark":{"type":"point","shape":"circle","filled":false,"stroke":"black","strokeWidth":0.8,"size":36,"opacity":1,"clip":true},"encoding":{"y":{"field":"y","type":"quantitative"}}},
{"data":{"name":"arr"},"transform":[{"filter":"datum.p=='Lc'"}],"mark":{"type":"rule","stroke":"black","strokeWidth":1.2},"encoding":{"y":{"field":"t","type":"quantitative"},"y2":{"field":"b"}}},
{"data":{"name":"arr"},"transform":[{"filter":"datum.p=='Lc'"}],"mark":{"type":"point","shape":"triangle-down","filled":true,"fill":"black","size":30,"opacity":1},"encoding":{"y":{"field":"b","type":"quantitative"}}},
{"data":{"name":"arr"},"transform":[{"filter":"datum.p=='Lc'"}],"mark":{"type":"text","text":"E","fontStyle":"italic","fontWeight":"bold","fontSize":11,"align":"center","baseline":"middle","dx":-1},"encoding":{"y":{"field":"ly","type":"quantitative"}}},
{"data":{"name":"arr"},"transform":[{"filter":"datum.p=='Lc'"}],"mark":{"type":"text","fontWeight":"bold","fontSize":7.5,"align":"left","baseline":"middle","dx":3,"dy":4},"encoding":{"y":{"field":"ly","type":"quantitative"},"text":{"field":"sub"}}},
{"data":{"name":"pl"},"transform":[{"filter":"datum.p=='Lc'"}],"mark":{"type":"text","fontWeight":"bold","fontSize":13,"align":"right","baseline":"middle"},"encoding":{"y":{"field":"y","type":"quantitative"},"text":{"field":"t"}}}
]}
]},
{"bounds":"flush","spacing":0,"vconcat":[
{"width":258,"height":183,
"encoding":{"x":{"field":"x","type":"quantitative","scale":{"domain":[2,6],"nice":false,"zero":false},"axis":null}},
"layer":[
{"data":{"name":"Rad"},"mark":{"type":"line","stroke":"black","strokeDash":[7,4],"strokeWidth":1.3,"clip":true},"encoding":{"y":{"field":"y","type":"quantitative","scale":{"domain":[-450,600],"nice":false,"zero":false},"axis":{"values":[-400,-200,0,200,400,600],"tickCount":20,"labelOverlap":false,"title":null,"labelExpr":"(datum.value < 0 ? '-' : '') + format(abs(datum.value), 'd')"}}}},
{"data":{"name":"Rae"},"mark":{"type":"line","stroke":"black","strokeWidth":1.1,"clip":true},"encoding":{"y":{"field":"y","type":"quantitative"}}},
{"data":{"name":"Rae"},"mark":{"type":"point","shape":"circle","filled":false,"stroke":"black","strokeWidth":0.8,"size":36,"opacity":1,"clip":true},"encoding":{"y":{"field":"y","type":"quantitative"}}},
{"data":{"name":"arr"},"transform":[{"filter":"datum.p=='Ra'"}],"mark":{"type":"rule","stroke":"black","strokeWidth":1.2},"encoding":{"y":{"field":"t","type":"quantitative"},"y2":{"field":"b"}}},
{"data":{"name":"arr"},"transform":[{"filter":"datum.p=='Ra'"}],"mark":{"type":"point","shape":"triangle-down","filled":true,"fill":"black","size":30,"opacity":1},"encoding":{"y":{"field":"b","type":"quantitative"}}},
{"data":{"name":"arr"},"transform":[{"filter":"datum.p=='Ra'"}],"mark":{"type":"text","text":"E","fontStyle":"italic","fontWeight":"bold","fontSize":11,"align":"center","baseline":"middle","dx":-1},"encoding":{"y":{"field":"ly","type":"quantitative"}}},
{"data":{"name":"arr"},"transform":[{"filter":"datum.p=='Ra'"}],"mark":{"type":"text","fontWeight":"bold","fontSize":7.5,"align":"left","baseline":"middle","dx":3,"dy":4},"encoding":{"y":{"field":"ly","type":"quantitative"},"text":{"field":"sub"}}},
{"data":{"name":"pl"},"transform":[{"filter":"datum.p=='Ra'"}],"mark":{"type":"text","fontWeight":"bold","fontSize":13,"align":"right","baseline":"middle"},"encoding":{"y":{"field":"y","type":"quantitative"},"text":{"field":"t"}}}
]},
{"width":258,"height":181,
"encoding":{"x":{"field":"x","type":"quantitative","scale":{"domain":[2,6],"nice":false,"zero":false},"axis":null}},
"layer":[
{"data":{"name":"Rbd"},"mark":{"type":"line","stroke":"black","strokeDash":[7,4],"strokeWidth":1.3,"clip":true},"encoding":{"y":{"field":"y","type":"quantitative","scale":{"domain":[-250,250],"nice":false,"zero":false},"axis":{"values":[-200,-100,0,100,200],"tickCount":20,"labelOverlap":false,"title":"d²ε/dω²","titleFontSize":17,"titleAngle":-90,"titleX":-46,"titleY":90,"titleAlign":"center","titleBaseline":"middle","labelExpr":"(datum.value < 0 ? '-' : '') + format(abs(datum.value), 'd')"}}}},
{"data":{"name":"Rbe"},"mark":{"type":"line","stroke":"black","strokeWidth":1.1,"clip":true},"encoding":{"y":{"field":"y","type":"quantitative"}}},
{"data":{"name":"Rbe"},"mark":{"type":"point","shape":"circle","filled":false,"stroke":"black","strokeWidth":0.8,"size":36,"opacity":1,"clip":true},"encoding":{"y":{"field":"y","type":"quantitative"}}},
{"data":{"name":"arr"},"transform":[{"filter":"datum.p=='Rb'"}],"mark":{"type":"rule","stroke":"black","strokeWidth":1.2},"encoding":{"y":{"field":"t","type":"quantitative"},"y2":{"field":"b"}}},
{"data":{"name":"arr"},"transform":[{"filter":"datum.p=='Rb'"}],"mark":{"type":"point","shape":"triangle-down","filled":true,"fill":"black","size":30,"opacity":1},"encoding":{"y":{"field":"b","type":"quantitative"}}},
{"data":{"name":"arr"},"transform":[{"filter":"datum.p=='Rb'"}],"mark":{"type":"text","text":"E","fontStyle":"italic","fontWeight":"bold","fontSize":11,"align":"center","baseline":"middle","dx":-1},"encoding":{"y":{"field":"ly","type":"quantitative"}}},
{"data":{"name":"arr"},"transform":[{"filter":"datum.p=='Rb'"}],"mark":{"type":"text","fontWeight":"bold","fontSize":7.5,"align":"left","baseline":"middle","dx":3,"dy":4},"encoding":{"y":{"field":"ly","type":"quantitative"},"text":{"field":"sub"}}},
{"data":{"name":"pl"},"transform":[{"filter":"datum.p=='Rb'"}],"mark":{"type":"text","fontWeight":"bold","fontSize":13,"align":"right","baseline":"middle"},"encoding":{"y":{"field":"y","type":"quantitative"},"text":{"field":"t"}}}
]},
{"width":258,"height":182,
"encoding":{"x":{"field":"x","type":"quantitative","scale":{"domain":[2,6],"nice":false,"zero":false},"axis":{"values":[2,3,4,5,6],"tickCount":20,"labelOverlap":false,"format":"d","title":"E (eV)","titleY":36,"titleBaseline":"middle"}}},
"layer":[
{"data":{"name":"Rcd"},"mark":{"type":"line","stroke":"black","strokeDash":[7,4],"strokeWidth":1.3,"clip":true},"encoding":{"y":{"field":"y","type":"quantitative","scale":{"domain":[-350,250],"nice":false,"zero":false},"axis":{"values":[-300,-200,-100,0,100,200],"tickCount":20,"labelOverlap":false,"title":null,"labelExpr":"(datum.value < 0 ? '-' : '') + format(abs(datum.value), 'd')"}}}},
{"data":{"name":"Rce"},"mark":{"type":"line","stroke":"black","strokeWidth":1.1,"clip":true},"encoding":{"y":{"field":"y","type":"quantitative"}}},
{"data":{"name":"Rce"},"mark":{"type":"point","shape":"circle","filled":false,"stroke":"black","strokeWidth":0.8,"size":36,"opacity":1,"clip":true},"encoding":{"y":{"field":"y","type":"quantitative"}}},
{"data":{"name":"arr"},"transform":[{"filter":"datum.p=='Rc'"}],"mark":{"type":"rule","stroke":"black","strokeWidth":1.2},"encoding":{"y":{"field":"t","type":"quantitative"},"y2":{"field":"b"}}},
{"data":{"name":"arr"},"transform":[{"filter":"datum.p=='Rc'"}],"mark":{"type":"point","shape":"triangle-down","filled":true,"fill":"black","size":30,"opacity":1},"encoding":{"y":{"field":"b","type":"quantitative"}}},
{"data":{"name":"arr"},"transform":[{"filter":"datum.p=='Rc'"}],"mark":{"type":"text","text":"E","fontStyle":"italic","fontWeight":"bold","fontSize":11,"align":"center","baseline":"middle","dx":-1},"encoding":{"y":{"field":"ly","type":"quantitative"}}},
{"data":{"name":"arr"},"transform":[{"filter":"datum.p=='Rc'"}],"mark":{"type":"text","fontWeight":"bold","fontSize":7.5,"align":"left","baseline":"middle","dx":3,"dy":4},"encoding":{"y":{"field":"ly","type":"quantitative"},"text":{"field":"sub"}}},
{"data":{"name":"pl"},"transform":[{"filter":"datum.p=='Rc'"}],"mark":{"type":"text","fontWeight":"bold","fontSize":13,"align":"right","baseline":"middle"},"encoding":{"y":{"field":"y","type":"quantitative"},"text":{"field":"t"}}}
]}
]}
]
}
